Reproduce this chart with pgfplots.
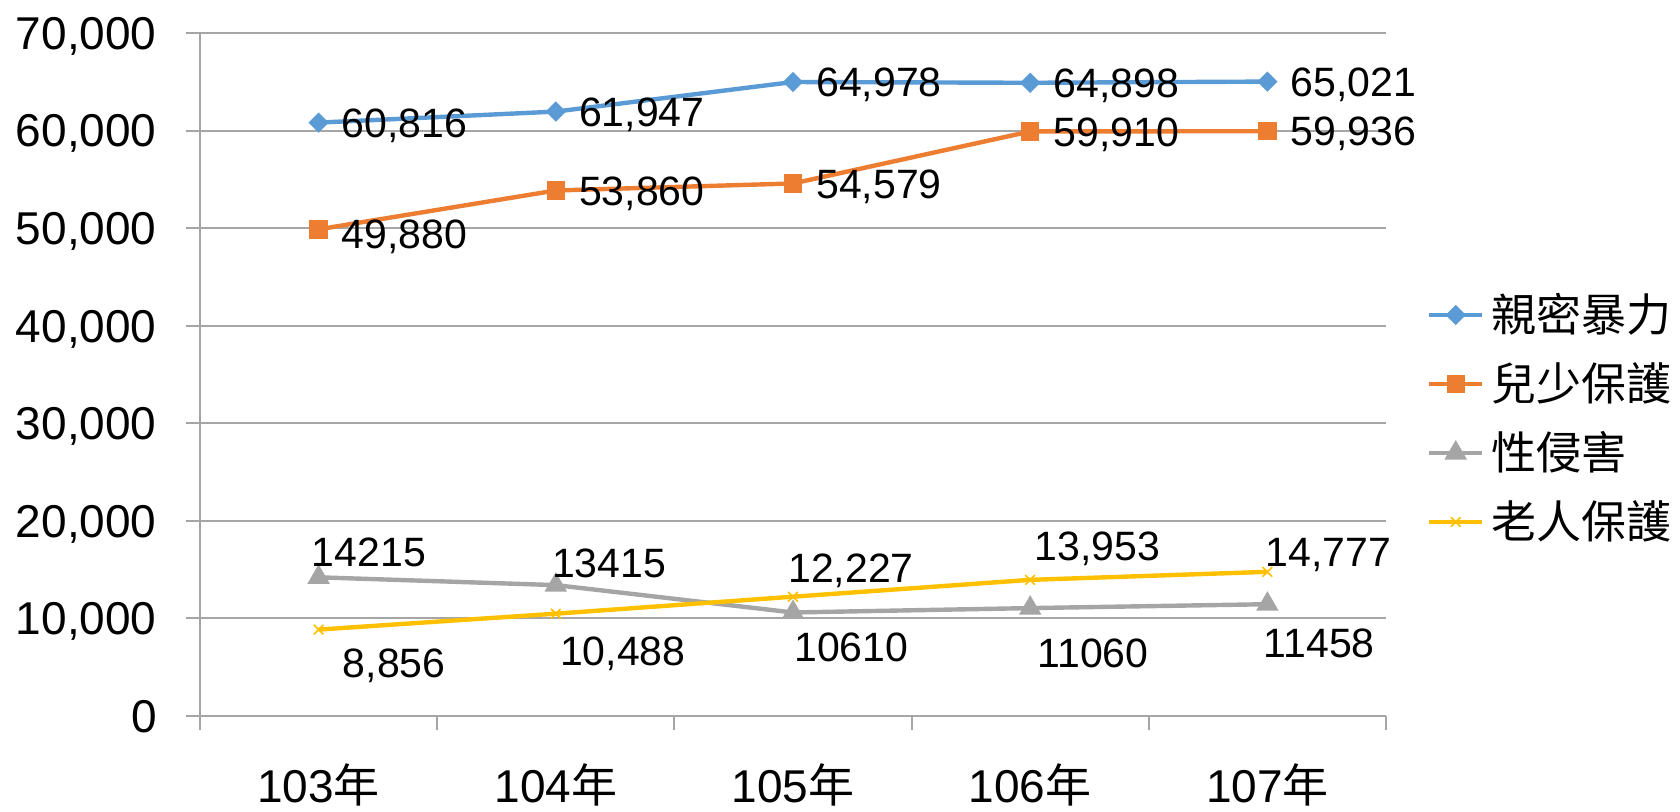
\documentclass[border=0pt]{standalone}
\usepackage{fontspec}
\setmainfont{Liberation Sans}
\newfontfamily\cjk{Noto Sans CJK TC}
\usepackage{pgfplots}
\pgfplotsset{compat=1.18}

\definecolor{cBlue}{HTML}{5B9BD5}
\definecolor{cOrange}{HTML}{ED7D31}
\definecolor{cGray}{HTML}{A5A5A5}
\definecolor{cGold}{HTML}{FFC000}
\definecolor{gridc}{HTML}{A6A6A6}

\newcommand\tickfont{\fontsize{23}{27}\selectfont}
\newcommand\labfont{\fontsize{20.5}{24}\selectfont}
\newcommand\legfont{\fontsize{22.5}{27}\selectfont}

% data label: x, y, text, xshift, yshift (baseline of the label)
\newcommand\lbl[5]{%
  \addplot[draw=none, mark=none, forget plot, nodes near coords,
    point meta=explicit symbolic,
    every node near coord/.append style={anchor=base west, inner sep=0pt,
      text=black, font=\labfont, xshift=#4, yshift=#5}]
    coordinates {(#1,#2) [#3]};}

\begin{document}
\begin{tikzpicture}
\useasboundingbox (-100pt,-47.5pt) rectangle (740pt,358pt);
\begin{axis}[
    at={(0,0)}, anchor=south west,
    scale only axis, width=593pt, height=341.5pt,
    xmin=-0.5, xmax=4.5, ymin=0, ymax=70000,
    clip=false,
    axis x line*=bottom, axis y line*=left,
    axis line style={draw=gridc, line width=1pt},
    tick align=outside, major tick length=7pt,
    tick style={draw=gridc, line width=1pt},
    xtick={-0.5,0.5,1.5,2.5,3.5,4.5}, xticklabels={},
    extra x ticks={0,1,2,3,4},
    extra x tick labels={103{\cjk 年},104{\cjk 年},105{\cjk 年},106{\cjk 年},107{\cjk 年}},
    extra x tick style={major tick length=0pt,
      xticklabel style={anchor=base, inner sep=0pt, font=\tickfont, yshift=-43pt}},
    ytick={0,10000,20000,30000,40000,50000,60000,70000},
    scaled y ticks=false,
    yticklabel style={anchor=base east, inner sep=0pt, font=\tickfont,
      yshift=-8.2pt, xshift=-14.5pt,
      /pgf/number format/.cd, 1000 sep={,}, assume math mode=true},
    ymajorgrids, grid style={draw=gridc, line width=1pt},
    legend style={at={(1.0346,0.4356)}, anchor=west, draw=none, fill=none,
      inner sep=0pt, outer sep=0pt, row sep=14.5pt, column sep=3.5pt,
      font=\legfont,
      nodes={inner sep=0pt, text height=18pt, text depth=2pt, anchor=base west}},
    legend cell align=left,
    legend image code/.code={\draw[mark repeat=2, mark phase=2, #1]
      plot coordinates {(0pt,8pt) (13.25pt,8pt) (26.5pt,8pt)};},
  ]

\addplot[cBlue, line width=2.2pt, mark=square*, mark size=2.5pt,
  mark options={rotate=45, solid}]
  coordinates {(0,60816) (1,61947) (2,64978) (3,64898) (4,65021)};
\addlegendentry{\cjk 親密暴力}
\addplot[cOrange, line width=2.2pt, mark=square*, mark size=3.5pt,
  mark options={solid}]
  coordinates {(0,49880) (1,53860) (2,54579) (3,59910) (4,59936)};
\addlegendentry{\cjk 兒少保護}
\addplot[cGray, line width=2.2pt, mark=triangle*, mark size=4.3pt,
  mark options={solid}]
  coordinates {(0,14215) (1,13415) (2,10610) (3,11060) (4,11458)};
\addlegendentry{\cjk 性侵害}
\addplot[cGold, line width=2.2pt, mark=x, mark size=3.4pt,
  mark options={solid, line width=0.8pt}]
  coordinates {(0,8856) (1,10488) (2,12227) (3,13953) (4,14777)};
\addlegendentry{\cjk 老人保護}

% 親密暴力
\lbl{0}{60816}{60,816}{11.5pt}{-7.35pt}
\lbl{1}{61947}{61,947}{11.5pt}{-7.35pt}
\lbl{2}{64978}{64,978}{11.5pt}{-7.35pt}
\lbl{3}{64898}{64,898}{11.5pt}{-7.35pt}
\lbl{4}{65021}{65,021}{11.5pt}{-7.35pt}
% 兒少保護
\lbl{0}{49880}{49,880}{11.5pt}{-9.8pt}
\lbl{1}{53860}{53,860}{11.5pt}{-7.35pt}
\lbl{2}{54579}{54,579}{11.5pt}{-7.35pt}
\lbl{3}{59910}{59,910}{11.5pt}{-7.35pt}
\lbl{4}{59936}{59,936}{11.5pt}{-7.35pt}
% 性侵害
\lbl{0}{14215}{14215}{-3.5pt}{5.2pt}
\lbl{1}{13415}{13415}{-2pt}{4pt}
\lbl{2}{10610}{10610}{0.5pt}{-24.5pt}
\lbl{3}{11060}{11060}{3.5pt}{-29.5pt}
\lbl{4}{11458}{11458}{-2pt}{-26.5pt}
% 老人保護
\lbl{0}{8856}{8,856}{12pt}{-23.7pt}
\lbl{1}{10488}{10,488}{2pt}{-26pt}
\lbl{2}{12227}{12,227}{-2.5pt}{7pt}
\lbl{3}{13953}{13,953}{2pt}{9.5pt}
\lbl{4}{14777}{14,777}{-1pt}{2.6pt}

\end{axis}
\end{tikzpicture}
\end{document}
